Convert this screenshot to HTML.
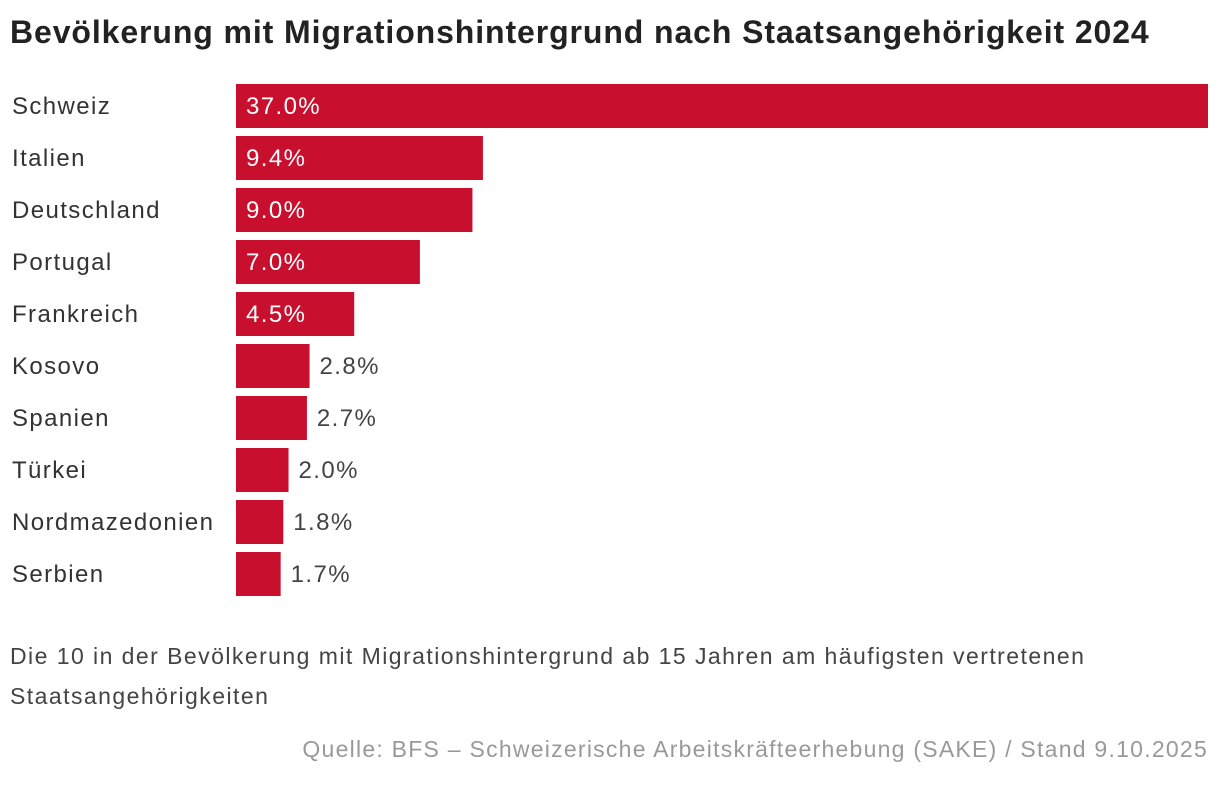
<!DOCTYPE html>
<html><head><meta charset="utf-8"><style>
body{margin:0;width:1220px;height:786px;background:#fff;font-family:"Liberation Sans",sans-serif;color:#333;overflow:hidden;position:relative}
#title{position:absolute;left:10px;top:14px;font-size:32px;font-weight:bold;color:#222;margin:0;letter-spacing:0.9px;white-space:nowrap}
#note{position:absolute;left:10px;top:636px;font-size:23px;line-height:40px;color:#444;width:1180px;letter-spacing:1.45px}
#source{position:absolute;right:12px;top:736px;font-size:23px;color:#999;letter-spacing:1.25px;white-space:nowrap}
svg{position:absolute;left:0;top:0}
svg text{letter-spacing:1.4px}
</style></head><body>
<h1 id="title">Bevölkerung mit Migrationshintergrund nach Staatsangehörigkeit 2024</h1>
<svg id="chart" width="1220" height="620"></svg>
<div id="note">Die 10 in der Bevölkerung mit Migrationshintergrund ab 15 Jahren am häufigsten vertretenen<br>Staatsangehörigkeiten</div>
<div id="source">Quelle: BFS – Schweizerische Arbeitskräfteerhebung (SAKE) / Stand 9.10.2025</div>
<script>
const categories=["Schweiz","Italien","Deutschland","Portugal","Frankreich","Kosovo","Spanien","Türkei","Nordmazedonien","Serbien"];
const values=[37.0,9.4,9.0,7.0,4.5,2.8,2.7,2.0,1.8,1.7];
const valueLabels=["37.0%","9.4%","9.0%","7.0%","4.5%","2.8%","2.7%","2.0%","1.8%","1.7%"];
const svg=document.getElementById('chart');
const NS='http://www.w3.org/2000/svg';
const x0=236,x1=1208,maxV=37.0;
const xs=v=>x0+(x1-x0)*v/maxV;
const yTop=i=>84+i*52, bh=44;
categories.forEach((c,i)=>{
  const y=yTop(i);
  const lab=document.createElementNS(NS,'text');
  
  
  lab.setAttribute('x',12);lab.setAttribute('y',y+bh/2+8);
  lab.setAttribute('font-size','24');lab.setAttribute('fill','#333');
  lab.textContent=c;svg.appendChild(lab);
  const r=document.createElementNS(NS,'rect');
  
  
  const w=xs(values[i])-x0;
  r.setAttribute('x',x0);r.setAttribute('y',y);r.setAttribute('width',w);r.setAttribute('height',bh);
  r.setAttribute('fill','#c8102e');svg.appendChild(r);
  const t=document.createElementNS(NS,'text');
  
  
  const inside=w>100;
  t.setAttribute('x',inside?x0+10:x0+w+10);t.setAttribute('y',y+bh/2+8);
  t.setAttribute('font-size','24');t.setAttribute('fill',inside?'#fff':'#444');
  t.textContent=valueLabels[i];svg.appendChild(t);
});
</script>
</body></html>
